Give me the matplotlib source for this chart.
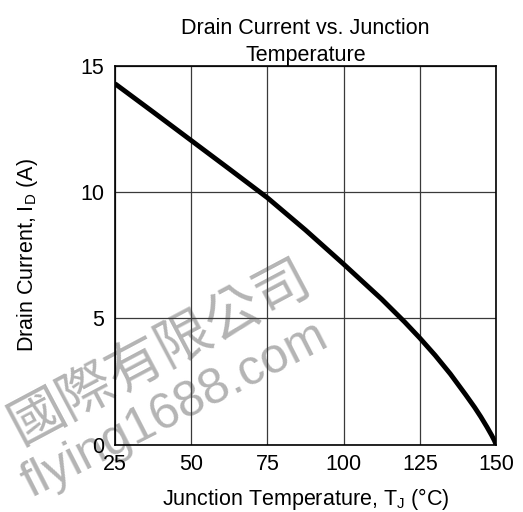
import matplotlib
matplotlib.use("Agg")
import matplotlib.pyplot as plt

# Data
temperature_c = [25, 37.5, 50, 62.5, 75, 87.5, 100, 112.5, 120, 125, 130, 135,
                 140, 143, 145, 147, 148.6, 149.5, 150]
drain_current_a = [14.3, 13.18, 12.05, 10.92, 9.78, 8.5, 7.15, 5.76, 4.86, 4.22,
                   3.54, 2.8, 1.98, 1.47, 1.1, 0.7, 0.36, 0.15, 0.0]
x_ticks = [25, 50, 75, 100, 125, 150]
y_ticks = [0, 5, 10, 15]

plt.rcParams['font.family'] = ['Liberation Sans', 'DejaVu Sans']
plt.rcParams['mathtext.fontset'] = 'custom'
plt.rcParams['mathtext.rm'] = 'Liberation Sans'

FS = 15.5

fig = plt.figure(figsize=(5.23, 5.12), dpi=100)
ax = fig.add_axes([0.2199, 0.1318, 0.7285, 0.7392])

ax.plot(temperature_c, drain_current_a, color='black', lw=3.5,
        solid_capstyle='butt', zorder=3)

ax.set_xlim(25, 150)
ax.set_ylim(0, 15)
ax.set_xticks(x_ticks)
ax.set_yticks(y_ticks)
ax.tick_params(axis='both', length=0, labelsize=FS)
ax.tick_params(axis='x', pad=7)
ax.tick_params(axis='y', pad=8)
ax.grid(True, color='#3a3a3a', lw=0.9)
for s in ax.spines.values():
    s.set_color('black')
    s.set_linewidth(1.2)

ax.set_title('Drain Current vs. Junction\nTemperature', fontsize=FS, pad=3,
             linespacing=1.38)
ax.set_xlabel(r'Junction Temperature, T$_\mathregular{J}$ (°C)', fontsize=FS,
              labelpad=8)
ax.set_ylabel(r'Drain Current, I$_\mathregular{D}$ (A)', fontsize=FS,
              labelpad=29)

# Watermark present in the reference image
ax.text(160 / 523, 1 - 352 / 512, '國際有限公司', transform=fig.transFigure,
        family=['Noto Sans CJK TC', 'DejaVu Sans'], fontsize=40,
        color='#b4b4b4', rotation=28, ha='center', va='center',
        zorder=1, clip_on=False)
ax.text(175 / 523, 1 - 410 / 512, 'flying1688.com', transform=fig.transFigure,
        fontsize=36, color='#b4b4b4', rotation=27, ha='center',
        va='center', zorder=1, clip_on=False)

fig.savefig('out.png', dpi=100)
